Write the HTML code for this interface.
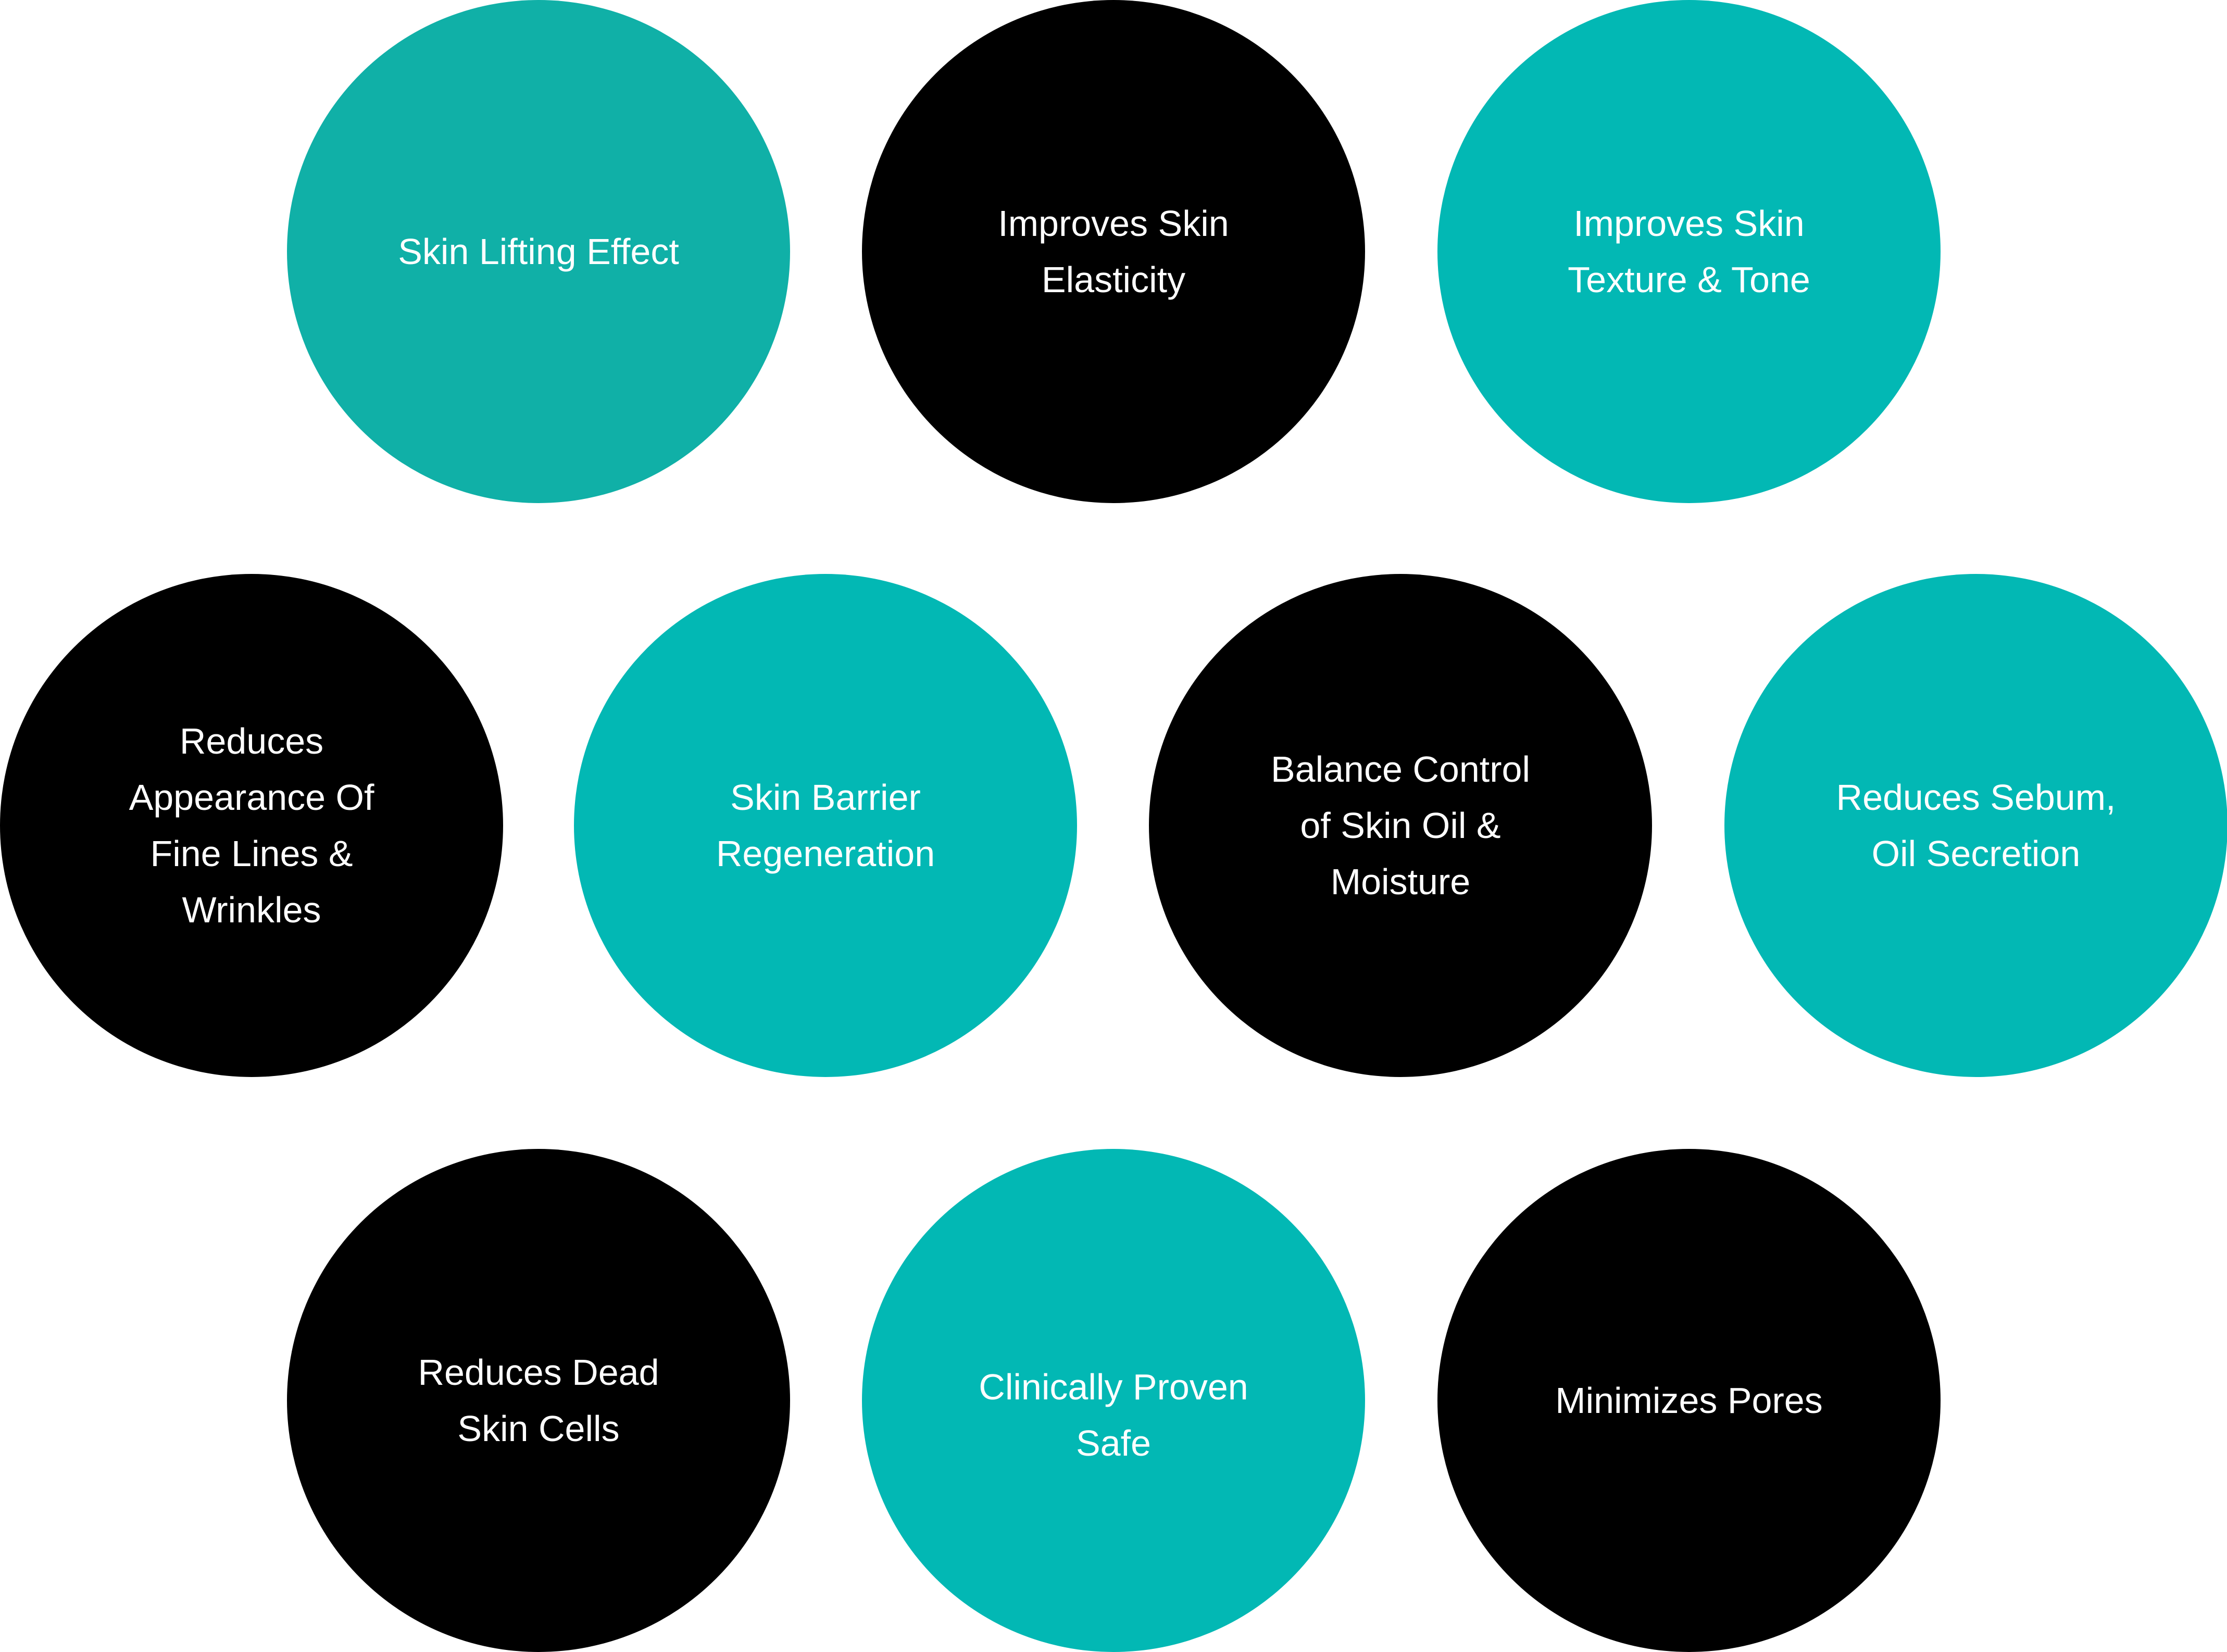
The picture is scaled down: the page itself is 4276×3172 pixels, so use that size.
<!DOCTYPE html>
<html><head><meta charset="utf-8"><style>
html,body{margin:0;padding:0;background:#fff;}
body{width:4276px;height:3172px;position:relative;overflow:hidden;font-family:"Liberation Sans",sans-serif;}
.c{position:absolute;width:966px;height:966px;border-radius:50%;display:flex;align-items:center;justify-content:center;text-align:center;color:#fff;font-size:70px;line-height:108px;box-sizing:border-box;}
.t{background:#02b8b4;}
.t1{background:#10b0a7;}
.k{background:#000;}
</style></head><body>
<div class="c t1" style="left:551px;top:0px">Skin Lifting Effect</div>
<div class="c k" style="left:1655px;top:0px">Improves Skin<br>Elasticity</div>
<div class="c t" style="left:2760px;top:0px">Improves Skin<br>Texture &amp; Tone</div>
<div class="c k" style="left:0px;top:1102px">Reduces<br>Appearance Of<br>Fine Lines &amp;<br>Wrinkles</div>
<div class="c t" style="left:1102px;top:1102px">Skin Barrier<br>Regeneration</div>
<div class="c k" style="left:2206px;top:1102px">Balance Control<br>of Skin Oil &amp;<br>Moisture</div>
<div class="c t" style="left:3311px;top:1102px">Reduces Sebum,<br>Oil Secretion</div>
<div class="c k" style="left:551px;top:2206px">Reduces Dead<br>Skin Cells</div>
<div class="c t" style="left:1655px;top:2206px;padding-top:56px">Clinically Proven<br>Safe</div>
<div class="c k" style="left:2760px;top:2206px">Minimizes Pores</div>
</body></html>
